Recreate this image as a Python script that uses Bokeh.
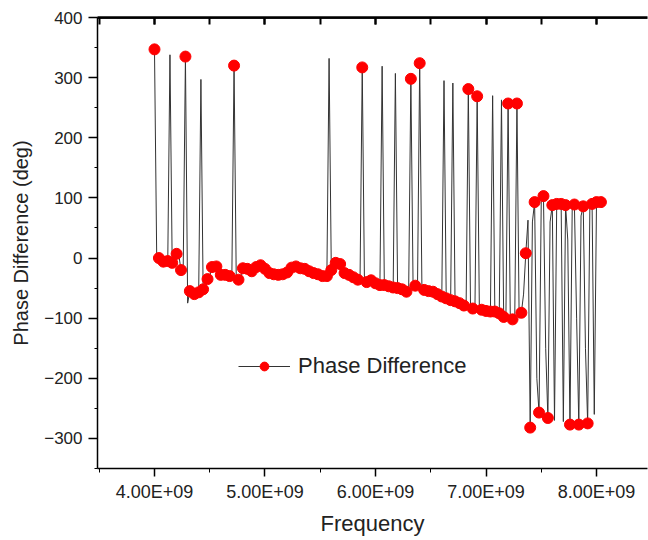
from bokeh.plotting import figure
from bokeh.models import (Range1d, LinearAxis, SingleIntervalTicker, Legend,
                          LegendItem, ColumnDataSource, Span)
from bokeh.embed import file_html
from bokeh.resources import INLINE

# ---- data ----
# phase difference (deg), one value every 20 MHz starting at 4.00E+09 Hz
phase_deg = [
    347, 2, 0, -5, -6, -8, -5, 338, -8, 0,
    7, 5, -20, -15, 335, -75, -55, -58, -60, -55,
    -57, 297, -52, -50, -35, -30, -15, -12, -14, -25,
    -28, -27, -28, -26, -30, -32, 320, -38, -36, -37,
    -17, -15, -18, -20, -22, -20, -15, -12, -12, -14,
    -18, -22, -25, -26, -27, -25, -28, -28, -27, -28,
    -24, -20, -16, -15, -14, -15, -17, -17, -18, -20,
    -22, -24, -25, -26, -27, -28, -30, -31, -30, 332,
    -20, -14, -8, -6, -10, -18, -25, -26, -28, -30,
    -32, -33, -36, -38, 317, -40, -40, -38, -37, -40,
    -42, -44, -45, 319, -45, -47, -47, -48, -49, 307,
    -50, -50, -52, -55, -56, -56, 298, -45, -46, -50,
    324, -50, -53, -54, -55, -56, -56, -57, -60, -62,
    -64, 295, -67, -69, -70, 291, -72, -74, -75, -77,
    -79, -80, 281, -83, -84, -85, 269, -86, -86, -87,
    -88, -88, -89, 270, -89, -90, -92, 263, -98, -100,
    257, -101, -102, -103, 257, -100, -91, -60, 8, 63,
    -282, 60, 93, -200, -257, 95, 103, -150, -266, 60,
    88, -270, 90, 85, 90, -272, 88, 30, -277, 80,
    89, -100, -277, 70, 86, -150, -275, 85, 90, -260,
    93, 95, 93,
]
f_start_hz = 4.00e9
f_step_hz = 0.02e9
freq_hz = [f_start_hz + f_step_hz * i for i in range(len(phase_deg))]

# markers are drawn on every second sample (as in the reference)
marker_freq = freq_hz[::2]
marker_phase = phase_deg[::2]

x_ticks = [4e9, 5e9, 6e9, 7e9, 8e9]
x_tick_labels = ["4.00E+09", "5.00E+09", "6.00E+09", "7.00E+09", "8.00E+09"]
y_top = 400
y_bottom = -350
series_name = "Phase Difference"

# ---- figure ----
FONT = "Liberation Sans"
p = figure(width=648, height=540, output_backend="svg", toolbar_location=None,
           title=None,
           x_range=Range1d(3.4842e9, 8.4615e9), y_range=Range1d(y_bottom, y_top),
           min_border_left=97, min_border_right=1, min_border_top=0,
           min_border_bottom=72,
           x_axis_label="Frequency", y_axis_label="Phase Difference (deg)")
p.outline_line_color = None
p.grid.visible = False
p.background_fill_color = "white"
p.border_fill_color = "white"

line_src = ColumnDataSource(dict(x=freq_hz, y=phase_deg))
mark_src = ColumnDataSource(dict(x=marker_freq, y=marker_phase))
lr = p.line("x", "y", source=line_src, line_color="#333333", line_width=1)
sr = p.scatter("x", "y", source=mark_src, size=11, fill_color="#ff0000",
               line_color="#ff0000")

# top frame line (at the top of the y range)
p.add_layout(Span(location=y_top, dimension="width", line_color="black",
                  line_width=2.5))

# x axis (bottom)
xa = p.xaxis[0]
xa.ticker = SingleIntervalTicker(interval=1e9, num_minor_ticks=2)
xa.major_label_overrides = {t: lab for t, lab in zip(x_ticks, x_tick_labels)}
xa.major_label_text_font = FONT
xa.major_label_text_font_size = "18px"
xa.major_label_text_color = "#222222"
xa.major_label_standoff = 5
xa.major_tick_out = 8
xa.major_tick_in = 0
xa.minor_tick_out = 4
xa.minor_tick_in = 0
xa.axis_line_width = 1.5
xa.major_tick_line_width = 1.5
xa.axis_label_text_font = FONT
xa.axis_label_text_font_size = "22px"
xa.axis_label_text_font_style = "normal"
xa.axis_label_text_color = "#222222"
xa.axis_label_standoff = 6

# y axis (left)
ya = p.yaxis[0]
ya.ticker = SingleIntervalTicker(interval=100, num_minor_ticks=2)
ya.major_label_text_font = FONT
ya.major_label_text_font_size = "17px"
ya.major_label_text_color = "#222222"
ya.major_label_standoff = 6
ya.major_tick_out = 9
ya.major_tick_in = 0
ya.minor_tick_out = 3
ya.minor_tick_in = 0
ya.axis_line_width = 1.5
ya.major_tick_line_width = 1.5
ya.axis_label_text_font = FONT
ya.axis_label_text_font_size = "20px"
ya.axis_label_text_font_style = "normal"
ya.axis_label_text_color = "#222222"
ya.axis_label_standoff = 9

# top axis: frame line with inward ticks (labels blend into the background)
top = LinearAxis(ticker=SingleIntervalTicker(interval=1e9, num_minor_ticks=2),
                 major_label_text_color="white",
                 major_label_text_font_size="10px", major_label_standoff=6,
                 major_tick_in=7, major_tick_out=0, minor_tick_in=7,
                 minor_tick_out=0, axis_line_width=2.5,
                 axis_line_color="black",
                 major_tick_line_width=2, minor_tick_line_width=2,
                 major_tick_line_color="black", minor_tick_line_color="black")
p.add_layout(top, "above")

legend = Legend(items=[LegendItem(label=series_name, renderers=[lr, sr])],
                location=(141, 89), glyph_width=52, glyph_height=22,
                label_standoff=8, padding=0, margin=0, spacing=0,
                border_line_color=None, background_fill_alpha=0,
                label_text_font=FONT, label_text_font_size="22px",
                label_text_color="#222222")
p.add_layout(legend, "center")

open("out.html", "w").write(file_html(p, INLINE))
